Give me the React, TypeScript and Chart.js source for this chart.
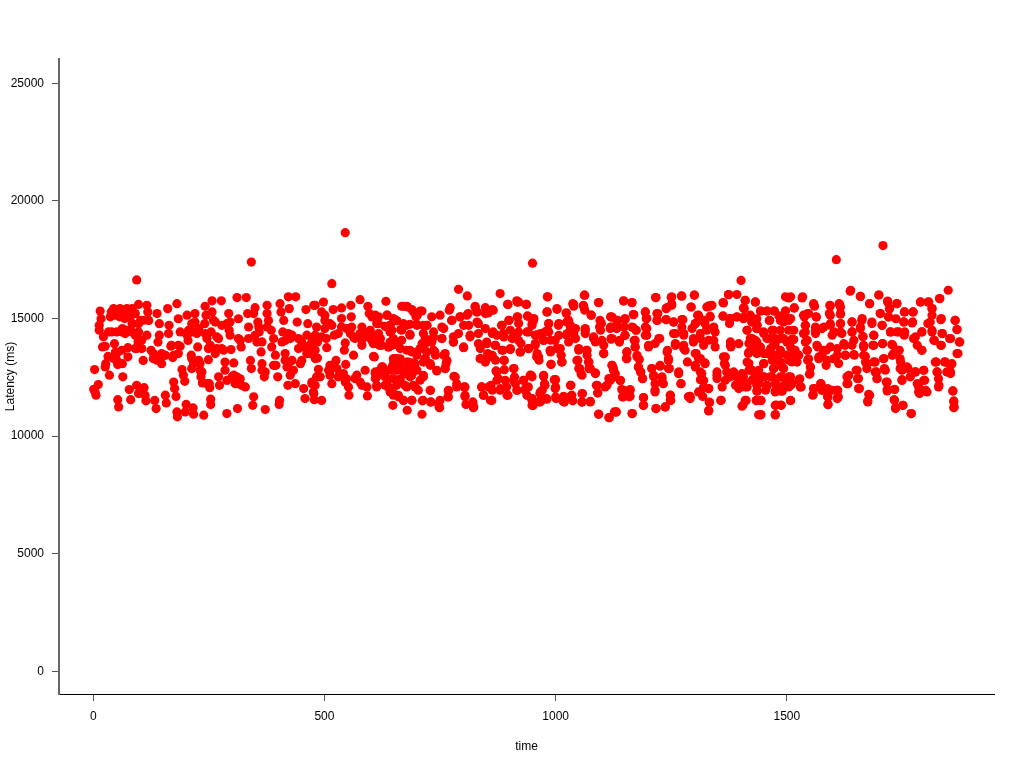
import React, { useEffect, useRef } from "react";
import { Chart, registerables } from "chart.js";

Chart.register(...registerables);

const xTicks = [0, 500, 1000, 1500];
const yTicks = [0, 5000, 10000, 15000, 20000, 25000];

const outliers = [[94,16640],[342,17400],[516,16480],[545,18650],[790,16240],[950,17350],[1401,16620],[1607,17500],[1708,18100],[1638,16200],[1849,16200]];

const part1 = [[3,12830],[1,11990],[11,12190],[6,11740],[4,11880],[15,15320],[17,14990],[13,14710],[13,14500],[22,14220],[20,13790],[26,13820],[32,13390],[27,13080],[26,12940],[35,12590],[39,15280],[44,15420],[37,15070],[40,14430],[51,14430],[46,13930],[48,13580],[51,13220],[53,13040],[63,13080],[64,12520],[58,15420],[57,15070],[68,15000],[63,14570],[69,14360],[75,13760],[75,13370],[73,15420],[84,15420],[80,15070],[85,14780],[84,14430],[98,15600],[102,14920],[98,14780],[98,14430],[97,14000],[91,13720],[105,13720],[108,13220],[116,15560],[118,15280],[120,14920],[116,14290],[125,13650],[130,13290],[138,15210],[143,14780],[143,14290],[140,14000],[148,13510],[148,13080],[161,15420],[164,14710],[163,14360],[168,13820],[172,13340],[181,15630],[184,14990],[188,14430],[188,13820],[184,13510],[203,15140],[206,14500],[205,14070],[212,13440],[217,13080],[213,12870],[220,15210],[220,14850],[224,14360],[226,13790],[231,13080],[242,15520],[244,15140],[241,14780],[246,14150],[249,13720],[249,13250],[257,15750],[257,15280],[264,14850],[267,14220],[264,13510],[278,14710],[282,13650],[277,15750],[293,15210],[289,14780],[296,14290],[298,13680],[285,13150],[285,12800],[304,13110],[311,15890],[331,15890],[314,14990],[318,14070],[320,13790],[334,15210],[336,14640],[336,14150],[350,15460],[347,15210],[356,14850],[359,14430],[354,14000],[363,13580],[340,13220],[342,12870],[365,13080],[370,12520],[376,15560],[376,15210],[379,14920],[385,14500],[390,14150],[386,13790],[394,13440],[395,13010],[399,12520],[404,15630],[406,15280],[412,14920],[410,14430],[415,14070],[415,13510],[419,12940],[422,15920],[438,15920],[424,15420],[441,14850],[430,14290],[444,14150],[430,13220],[433,12800],[437,12230],[421,12160],[460,15380],[464,14780],[462,14290],[458,13790],[451,13220],[448,13080],[477,15560],[473,14000],[469,13510],[455,12020],[458,11600],[473,12300],[477,11810],[78,11980],[81,11550],[94,12160],[98,11810],[110,12060],[112,11740],[114,11500],[53,11550],[55,11240],[133,11520],[136,11170],[156,11740],[158,11410],[174,12300],[176,12020],[179,11690],[201,11350],[199,11030],[181,11030],[182,10820],[216,11200],[217,10930],[239,10890],[254,11570],[254,11340],[289,10960],[312,11170],[347,11670],[345,11310],[372,11130],[403,11520],[402,11350],[192,12830],[195,12590],[198,12330],[231,12800],[233,12520],[236,12260],[251,12230],[252,12060],[271,12520],[273,12160],[289,12370],[304,12590],[307,12230],[318,12440],[321,12160],[329,12090]];

const part2 = [[480,15560],[498,15700],[494,15280],[501,14920],[519,15380],[537,15450],[557,15560],[558,15070],[577,15800],[594,15520],[597,15210],[617,15070],[633,15730],[636,15140],[667,15520],[678,15520],[689,15380],[700,15210],[711,15320],[698,15070],[732,15070],[750,15140],[772,15460],[770,15350],[809,15960],[793,15070],[811,15210],[826,15520],[830,15280],[848,15460],[863,15380],[855,15240],[880,16060],[897,15600],[916,15750],[920,15700],[936,15600],[917,15070],[899,14920],[939,15110],[952,14920],[483,14640],[480,14290],[485,14000],[501,14570],[516,14710],[521,14290],[504,14150],[505,13760],[537,15000],[537,14640],[559,14640],[556,14360],[545,13960],[543,13650],[563,13440],[581,14640],[566,14150],[581,13860],[599,14500],[588,14220],[606,13930],[617,14780],[620,14100],[635,14640],[642,14430],[638,13790],[655,14920],[667,14500],[649,14150],[660,14000],[664,13720],[678,14710],[685,14290],[700,14710],[721,14710],[714,14360],[685,13650],[700,13580],[718,13930],[736,14430],[732,14000],[721,13580],[739,13580],[754,14640],[754,14150],[775,14920],[779,14220],[779,14000],[801,14710],[801,13760],[790,14360],[815,14220],[830,14850],[848,14570],[851,14000],[865,14430],[869,13860],[837,13720],[837,13290],[851,13290],[884,14710],[884,13650],[902,13680],[889,13220],[887,14360],[909,14220],[920,14070],[923,13580],[941,14430],[941,13720],[959,14290],[959,13370],[469,13860],[476,13580],[485,13320],[487,12840],[491,12520],[473,12230],[476,11880],[478,11550],[494,11520],[512,13010],[509,12800],[516,12230],[512,12590],[525,13220],[527,12870],[530,12520],[541,12660],[546,13050],[548,12440],[552,12090],[553,11740],[570,12590],[577,12300],[588,12800],[592,12090],[593,11710],[606,13390],[610,12660],[613,12160],[624,12940],[631,12520],[638,12090],[649,11740],[648,11310],[660,11670],[671,11520],[679,11100],[689,11520],[649,13290],[664,13290],[642,12800],[656,12800],[649,13080],[664,13010],[682,13150],[696,13080],[674,12660],[685,12520],[700,12800],[664,12440],[656,12160],[674,12160],[692,12160],[703,11950],[714,12520],[729,13080],[718,13290],[743,12800],[761,13510],[765,13220],[761,12870],[729,11950],[712,11500],[711,10930],[730,11450],[747,11380],[749,11210],[768,11920],[767,11670],[780,12540],[786,12090],[802,12090],[804,11670],[806,11350],[821,11350],[822,11210],[840,12090],[844,11740],[860,12160],[862,11520],[871,12770],[876,12440],[880,11950],[894,12090],[897,11740],[910,12870],[909,12370],[916,11950],[930,12370],[934,11950],[945,12590],[948,11600],[951,11310],[941,12090],[966,11450],[966,11810]];

const part3 = [[982,15920],[981,15280],[1003,15390],[1023,15240],[1037,15630],[1039,15520],[1060,15560],[1063,15990],[1063,15350],[1093,15680],[1077,15140],[1096,14920],[1095,14640],[1119,15070],[1118,14570],[1134,14920],[1134,14640],[1150,14950],[1147,15750],[1165,15680],[1169,15170],[1165,14640],[1174,14500],[1150,14290],[1194,15280],[1197,15000],[1197,14570],[1194,14290],[1219,15210],[1219,14920],[1216,15890],[1239,14950],[1239,15420],[1251,15920],[1251,15630],[1273,15950],[1300,15990],[1293,15490],[1255,14850],[1275,14950],[1259,14360],[1277,14290],[1259,13860],[1277,13720],[1309,15140],[1302,14780],[1320,14920],[1298,14000],[1313,14360],[1342,14640],[1327,14500],[1342,14070],[1320,13860],[1334,15520],[1327,15490],[1334,15100],[1362,15680],[1374,16020],[1392,16020],[1410,15770],[1406,15450],[1432,15700],[1362,15110],[1376,14990],[1392,15070],[1406,14990],[1421,15140],[1435,14990],[1424,14850],[1414,14500],[1435,14570],[1421,14150],[1378,13860],[1396,13930],[1424,13860],[1435,14000],[1417,13510],[1435,13510],[952,14920],[949,14710],[985,14780],[1006,14710],[959,14290],[977,14430],[974,14070],[956,13860],[988,13650],[1010,13720],[999,14070],[1024,14850],[1032,14640],[1024,14290],[1039,14360],[1050,13720],[1064,14500],[1082,14150],[1100,14070],[1067,13650],[1104,13510],[1120,14120],[1138,14000],[1172,14070],[1172,13790],[1154,13580],[1154,13290],[1176,13370],[1201,13790],[1223,14150],[1241,13580],[1244,13220],[1244,12870],[963,13370],[990,13050],[1013,13150],[1046,13220],[1071,13150],[1050,12870],[1057,12590],[1075,12870],[1086,12660],[1122,13010],[1125,12800],[1179,12940],[1184,12730],[1188,12440],[1208,12870],[1212,12520],[1226,13010],[1230,12520],[1233,12230],[1215,11950],[1266,12730],[1271,12230],[1302,13510],[1309,13290],[1323,13080],[1302,12940],[1316,12660],[1320,12370],[1331,12020],[1313,11880],[1318,11690],[1291,11690],[1287,11670],[1363,13370],[1367,13010],[1349,12590],[1360,12090],[1378,12520],[1385,12730],[1396,12160],[1414,13150],[1406,12520],[1421,12800],[1428,12440],[1414,12090],[1439,12800],[1439,12300],[949,12520],[949,11520],[951,11310],[974,12540],[977,12160],[967,11880],[969,11500],[981,11570],[997,12400],[999,12020],[1001,11600],[1017,11690],[1019,11450],[1033,12160],[1035,11740],[1037,11500],[1058,11810],[1057,11450],[1075,11480],[1088,12160],[1091,11840],[1107,12090],[1118,12370],[1140,12350],[1147,11950],[1145,11670],[1161,11950],[1159,11670],[1190,11640],[1190,11310],[1093,10940],[1115,10790],[1131,11030],[1166,10960],[1217,11170],[1237,11240],[1248,11740],[1249,11520],[1332,11450],[1331,11100],[1357,11520],[1405,11310],[1412,11520],[1439,10910]];

const part4 = [[1497,15920],[1508,15920],[1534,15920],[1443,15320],[1457,15320],[1473,15320],[1497,15320],[1516,15450],[1427,14920],[1462,14920],[1486,14920],[1504,14920],[1435,14570],[1450,14360],[1471,14500],[1515,14500],[1464,14150],[1486,14150],[1511,14120],[1428,14000],[1443,13650],[1471,13860],[1500,14000],[1457,13510],[1486,13510],[1518,13650],[1425,13650],[1450,13080],[1479,13220],[1508,13220],[1522,13150],[1471,12870],[1493,12870],[1425,12800],[1432,12520],[1450,12520],[1464,12520],[1508,12520],[1486,12520],[1528,12440],[1435,12160],[1457,12120],[1479,12160],[1508,12160],[1531,12090],[1435,11920],[1475,11920],[1487,11920],[1434,11520],[1444,11520],[1477,11320],[1487,11320],[1508,11520],[1443,10900],[1475,10900],[1558,15630],[1560,15520],[1545,15210],[1536,15140],[1563,15070],[1540,14710],[1540,14000],[1544,13650],[1536,14360],[1562,14500],[1576,14570],[1593,15560],[1592,15210],[1594,14780],[1598,14290],[1613,15630],[1616,15210],[1616,14780],[1616,14430],[1565,13860],[1569,13290],[1585,13650],[1585,13010],[1576,13440],[1601,13290],[1626,13860],[1626,13440],[1547,13290],[1551,12940],[1549,12630],[1659,15940],[1679,15630],[1699,16000],[1641,14850],[1641,14430],[1662,14920],[1659,14570],[1665,14220],[1641,13860],[1666,13790],[1646,13440],[1670,13390],[1684,14850],[1688,14290],[1686,13860],[1702,15210],[1706,14710],[1707,13930],[1718,15700],[1722,15420],[1720,15070],[1724,14430],[1727,13900],[1738,15630],[1736,14990],[1742,14430],[1742,13650],[1731,13510],[1754,15280],[1753,14850],[1754,14290],[1773,15280],[1771,14810],[1789,15700],[1805,15700],[1814,15420],[1810,14850],[1792,14430],[1774,14150],[1792,13650],[1814,15140],[1814,14430],[1819,14070],[1830,15850],[1833,14950],[1836,14360],[1833,13860],[1852,14150],[1864,14920],[1868,14530],[1874,14000],[1870,13510],[1556,11740],[1558,12020],[1574,12230],[1576,11950],[1588,12020],[1588,11670],[1589,11340],[1610,11950],[1611,11670],[1630,12520],[1632,12230],[1650,12800],[1653,12440],[1657,12020],[1679,11740],[1675,11500],[1673,13080],[1673,12870],[1691,13150],[1694,12730],[1695,12440],[1709,13290],[1711,12870],[1715,12300],[1717,11920],[1733,11980],[1732,11550],[1735,11170],[1751,11310],[1769,10960],[1745,13290],[1745,12870],[1749,12370],[1760,12940],[1767,12520],[1778,12730],[1785,12090],[1787,11810],[1796,12800],[1796,12370],[1803,11880],[1821,13150],[1825,12730],[1828,12090],[1828,12440],[1843,13150],[1857,13080],[1854,12660],[1846,12730],[1859,11920],[1861,11450],[1862,11240]];

const part5 = [[671,15520],[680,15490],[693,15280],[707,15320],[701,15140],[776,14925],[794,15070],[808,15140],[635,15140],[649,14995],[657,14900],[671,14780],[685,14755],[700,14755],[714,14710],[722,14710],[642,14710],[631,14670],[646,14500],[665,14530],[685,14330],[736,14215],[718,14145],[711,13930],[707,13720],[732,14000],[667,14075],[660,13860],[642,14000],[639,13790],[621,14145],[619,13860],[678,13650],[689,13580],[700,13440],[718,13295],[736,13650],[740,13440],[758,13440],[763,13080],[761,12870],[743,12770],[729,13010],[714,13150],[693,13110],[678,13150],[657,13295],[651,13295],[646,12940],[660,12870],[678,12800],[693,12940],[626,12940],[624,12730],[610,12730],[610,12445],[613,12090],[631,12585],[635,12230],[641,12020],[649,11810],[660,11735],[671,11525],[689,11525],[649,12445],[664,12300],[678,12090],[696,12090],[707,12375],[714,12585],[689,12585],[671,12730],[729,11950],[713,11525],[730,11455],[748,11240],[750,11525],[768,11665],[768,11950],[783,12515],[786,12230],[804,12090],[804,11735],[821,11455],[823,11240],[840,12090],[844,11735],[855,12090],[758,14570],[754,14145],[779,14000],[826,15490],[830,15280],[848,15210],[812,14710],[801,13790],[815,14290],[833,14780],[833,14360],[833,13930],[837,13295],[851,13930],[853,13510],[848,13150],[610,15140],[613,14785],[603,15065],[606,14215],[608,13365]];

const part6 = [[1410,15775],[1408,15420],[1432,15705],[1392,15065],[1378,14995],[1407,15065],[1421,15065],[1443,15320],[1457,15320],[1472,15320],[1497,15320],[1497,15065],[1483,15110],[1516,15450],[1504,15875],[1533,15875],[1558,15590],[1547,15210],[1538,15065],[1564,15065],[1594,15535],[1594,15135],[1616,15490],[1425,14855],[1436,14710],[1463,14925],[1493,14855],[1508,14995],[1414,14500],[1450,14430],[1468,14500],[1486,14500],[1504,14500],[1540,14710],[1540,14430],[1562,14640],[1562,14360],[1580,14640],[1594,14710],[1602,14430],[1457,14145],[1475,14145],[1493,14145],[1515,14105],[1425,14145],[1432,14075],[1418,13935],[1443,13790],[1425,13650],[1465,13720],[1475,13935],[1486,13650],[1508,13790],[1418,13580],[1450,13510],[1472,13440],[1500,13440],[1515,13510],[1526,13440],[1544,14075],[1544,13650],[1545,13225],[1551,12940],[1550,12660],[1567,13790],[1569,13365],[1580,13650],[1587,13225],[1594,13790],[1609,13720],[1612,13085],[1418,13085],[1450,13085],[1468,13225],[1486,13155],[1504,13225],[1472,12870],[1490,12940],[1511,13155],[1385,12655],[1403,12655],[1418,12800],[1432,12655],[1450,12515],[1468,12515],[1490,12515],[1504,12515],[1526,12375],[1389,12160],[1407,12330],[1425,12375],[1439,12230],[1457,12160],[1475,12230],[1497,12230],[1511,12230],[1529,12090],[1396,12020],[1410,12090],[1436,11910],[1454,11950],[1475,11880],[1490,11910],[1504,12090],[1558,12020],[1557,11765],[1573,12230],[1576,11950],[1589,11665],[1589,11340],[1598,11950],[1609,11950],[1609,11595],[1410,11525],[1403,11270],[1434,11510],[1444,11510],[1475,11310],[1488,11310],[1508,11510],[1444,10915],[1475,10915]];

const part7 = [[865,15350],[896,15605],[917,15700],[937,15605],[983,15920],[982,15280],[1003,15420],[1023,15210],[1039,15605],[1062,15990],[1061,15490],[1093,15675],[1077,15140],[918,15065],[899,14925],[940,15095],[953,14995],[949,14785],[883,14710],[920,14785],[863,14360],[873,14285],[888,14215],[902,14500],[906,14145],[920,14430],[938,14430],[985,14785],[983,14500],[1007,14785],[1007,14285],[1028,14925],[1032,14710],[1025,14360],[1043,14570],[1043,14145],[1028,14005],[1064,14570],[1064,14360],[1082,14215],[1086,14005],[1099,14785],[1097,14500],[1104,13860],[1104,13510],[1120,15065],[1119,14640],[1120,14145],[956,14285],[967,14360],[985,14430],[974,14075],[989,14075],[956,13935],[942,13720],[925,13935],[924,13580],[902,13720],[886,13650],[870,13860],[863,13435],[870,13225],[888,13225],[960,13510],[964,13225],[989,13580],[1003,13720],[1012,13435],[1014,13155],[990,13055],[1050,13650],[1068,13650],[1068,13435],[1048,13225],[1052,12870],[1055,12655],[1072,13155],[1072,12870],[1086,12685],[889,12825],[873,12730],[909,12870],[911,12515],[873,12375],[891,12375],[881,12020],[895,11735],[913,12230],[917,11950],[931,12375],[935,12020],[938,11735],[947,12585],[949,11595],[949,11310],[974,12585],[976,12230],[971,11950],[967,11525],[980,11595],[1000,12400],[1000,12090],[1000,11665],[1018,11665],[1016,11480],[1032,12160],[1031,11665],[1057,11805],[1057,11455],[1075,11455],[1090,12160],[1091,11835],[1111,12160],[1115,12445],[1126,12515],[1122,13010],[1093,10930],[1116,10785],[1127,11030],[859,11525],[863,11950]];

const part8 = [[1147,15745],[1165,15675],[1217,15890],[1250,15890],[1241,15465],[1251,15560],[1272,15960],[1300,16000],[1293,15490],[1331,15535],[1338,15560],[1363,15660],[1374,16015],[1168,15165],[1194,15280],[1196,14995],[1221,15210],[1220,14925],[1239,14955],[1255,14855],[1273,14955],[1307,15135],[1334,15065],[1362,15095],[1378,14995],[1376,14785],[1122,15065],[1122,14640],[1132,14925],[1150,14995],[1132,14570],[1148,14640],[1168,14610],[1174,14500],[1194,14640],[1150,14285],[1138,14075],[1122,14145],[1170,14075],[1172,13790],[1197,14285],[1201,13860],[1225,14145],[1215,13935],[1255,14360],[1259,13935],[1273,14640],[1277,14360],[1277,13860],[1295,14570],[1302,14785],[1298,14145],[1323,14785],[1327,14570],[1313,14145],[1331,14075],[1345,14430],[1345,13790],[1314,14925],[1378,14005],[1379,13790],[1154,13580],[1153,13295],[1176,13435],[1181,13255],[1242,13650],[1244,13295],[1246,12870],[1280,13650],[1285,13155],[1304,13510],[1302,13010],[1313,13295],[1323,13110],[1367,13365],[1365,13085],[1125,12870],[1129,12655],[1140,12375],[1179,12940],[1184,12730],[1188,12445],[1208,12870],[1212,12585],[1215,12230],[1215,11880],[1226,12970],[1230,12445],[1266,12655],[1271,12230],[1313,12730],[1313,12400],[1320,12090],[1331,12020],[1309,11880],[1349,12730],[1349,12445],[1370,12730],[1381,12585],[1367,12375],[1392,12515],[1143,11980],[1145,11665],[1161,11980],[1161,11695],[1190,11635],[1190,11310],[1237,11240],[1248,11735],[1248,11525],[1290,11695],[1291,11595],[1333,11425],[1331,11070],[1358,11525],[1131,11030],[1165,10960],[1217,11170]];

const part9 = [[1637,16160],[1659,15945],[1679,15630],[1699,16000],[1614,15605],[1616,15180],[1718,15745],[1722,15420],[1738,15635],[1755,15280],[1773,15280],[1789,15705],[1807,15705],[1814,15420],[1831,15845],[1616,14785],[1619,14360],[1623,13930],[1641,14855],[1641,14430],[1645,14075],[1663,15000],[1664,14245],[1659,14640],[1666,13860],[1684,14785],[1688,14285],[1688,13860],[1702,15210],[1706,14710],[1707,13935],[1720,15065],[1724,14430],[1729,13860],[1738,14430],[1753,14855],[1755,14430],[1772,14855],[1778,14215],[1782,13860],[1792,14430],[1792,13650],[1805,14785],[1814,14500],[1818,14075],[1834,15000],[1836,14360],[1834,13860],[1854,14145],[1864,14925],[1868,14530],[1873,14005],[1868,13510],[1743,13650],[1728,13435],[1609,13435],[1627,13435],[1645,13465],[1666,13435],[1670,13155],[1688,13155],[1691,12730],[1695,12445],[1710,13295],[1713,12800],[1717,12300],[1717,11980],[1733,11990],[1733,11525],[1735,11210],[1751,11310],[1769,10960],[1746,13155],[1749,12800],[1749,12400],[1762,12870],[1778,12730],[1782,12230],[1785,11880],[1800,11950],[1796,12800],[1798,12375],[1823,13155],[1825,12730],[1829,12160],[1841,13155],[1854,13010],[1854,12730],[1859,11920],[1861,11495],[1861,11210],[1634,12585],[1630,12230],[1652,12800],[1655,12445],[1655,12020],[1677,11780],[1675,11455],[1609,11950],[1611,11665]];

const part10 = [[33,14430],[62,14430],[73,14500],[47,15140],[65,15140],[91,15210],[84,14780],[91,14290],[105,14075],[94,13720],[109,14925],[51,13510],[44,13295],[62,13650],[130,13510],[138,13225],[145,13295],[156,13435],[169,13860],[174,13435],[184,13860],[203,14290],[213,14780],[213,14430],[228,14570],[242,14360],[260,14925],[255,14430],[271,14145],[253,13860],[267,13720],[278,13720],[296,14850],[294,14500],[314,14145],[213,13295],[228,13225],[235,12730],[246,12230],[300,12515],[311,12515],[314,12230],[358,14640],[376,14640],[350,14285],[365,14005],[365,12800],[372,12730],[390,13010],[408,14005],[422,14360],[426,14145],[415,13225],[422,13080],[426,12590],[444,13720],[455,13790],[451,14005],[466,13720],[462,13510],[477,14215],[480,13650],[480,13295],[501,15140],[512,14780],[494,14215],[476,14005],[530,14360],[548,14570],[563,14215],[577,14360],[592,14360],[602,14075],[581,14075],[617,14360],[624,13860],[642,14710],[646,13860],[483,12515],[480,12160],[512,12800],[545,12300],[566,12445],[581,12160],[613,12515],[620,12800],[631,12160],[642,11880]];

const FONT = { family: "'Liberation Sans', Arial, sans-serif", size: 12 };
const points = [...part1, ...part2, ...part3, ...part4, ...part5, ...part6, ...part7, ...part8, ...part9, ...part10, ...outliers].map(([x, y]) => ({ x, y }));

export default function App() {
  const ref = useRef<HTMLCanvasElement>(null);
  useEffect(() => {
    const chart = new Chart(ref.current!, {
      type: "scatter",
      data: {
        datasets: [{ data: points, backgroundColor: "#ff0000", borderWidth: 0, pointRadius: 4.6, pointHoverRadius: 4.6 }],
      },
      options: {
        responsive: false,
        animation: false,
        layout: { padding: { top: 59, right: 30, left: 0, bottom: 0 } },
        plugins: { legend: { display: false }, tooltip: { enabled: false } },
        scales: {
          x: {
            type: "linear",
            min: -74,
            max: 1948,
            afterFit: (s: any) => { s.height = 74; },
            afterBuildTicks: (s: any) => { s.ticks = xTicks.map((value) => ({ value })); },
            grid: { drawOnChartArea: false, tickColor: "#555", tickLength: 7, tickWidth: 1 },
            border: { color: "#000", width: 1 },
            ticks: { color: "#000", font: FONT, maxRotation: 0, autoSkip: false, padding: 8, callback: (v: any) => String(v) },
            title: { display: true, text: "time", color: "#000", font: FONT, padding: { top: 10, bottom: 14 } },
          },
          y: {
            type: "linear",
            min: -960,
            max: 26030,
            afterFit: (s: any) => { s.width = 59; },
            afterBuildTicks: (s: any) => { s.ticks = yTicks.map((value) => ({ value })); },
            grid: { drawOnChartArea: false, tickColor: "#555", tickLength: 7, tickWidth: 1 },
            border: { color: "#666", width: 2 },
            ticks: { color: "#000", font: FONT, autoSkip: false, padding: 8, callback: (v: any) => String(v) },
            title: { display: true, text: "Latency (ms)", color: "#000", font: FONT, padding: { top: 3, bottom: 0 } },
          },
        },
      },
    } as any);
    return () => chart.destroy();
  }, []);
  return (
    <canvas
      ref={ref}
      width={1024}
      height={768}
      style={{ position: "fixed", left: 0, top: 0, width: 1024, height: 768, background: "#fff" }}
    />
  );
}
